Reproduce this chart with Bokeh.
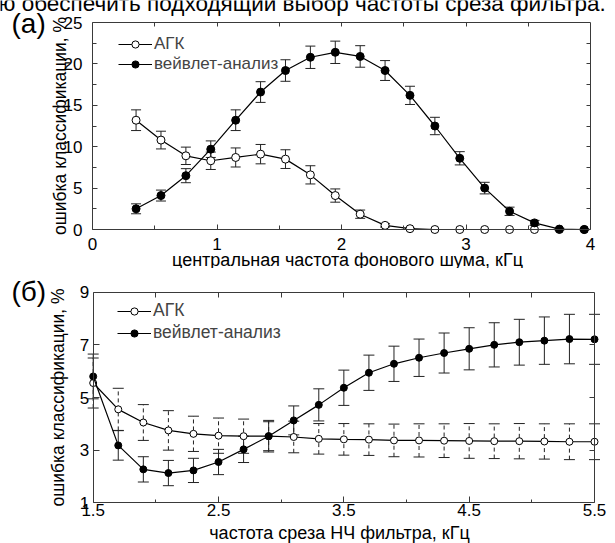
import math
from bokeh.plotting import figure
from bokeh.layouts import column
from bokeh.models import (Range1d, LinearAxis, Whisker, ColumnDataSource, Legend,
                          LegendItem, Label, TeeHead, FixedTicker)
from bokeh.embed import file_html
from bokeh.resources import INLINE

FONT = "Liberation Sans"

# ---------------- panel (а) data ----------------
x_a = [0.35, 0.55, 0.75, 0.95, 1.15, 1.35, 1.55, 1.75, 1.95, 2.15,
       2.35, 2.55, 2.75, 2.95, 3.15, 3.35, 3.55, 3.75, 3.95]
agk_a = [13.2, 10.8, 8.9, 8.3, 8.7, 9.1, 8.5, 6.6, 4.1, 1.85,
         0.5, 0.1, 0.0, 0.0, 0.0, 0.0, 0.0, 0.0, 0.0]
agk_a_err = [1.25, 1.07, 1.05, 1.05, 1.15, 1.17, 1.13, 1.1, 0.8, 0.5,
             0.2, 0.05, 0.0, 0.0, 0.0, 0.0, 0.0, 0.0, 0.0]
wav_a = [2.5, 4.1, 6.5, 9.7, 13.2, 16.6, 19.2, 20.8, 21.4, 20.9,
         19.2, 16.2, 12.5, 8.6, 5.0, 2.2, 0.8, 0.05, 0.0]
wav_a_err = [0.6, 0.66, 0.85, 1.0, 1.25, 1.25, 1.3, 1.35, 1.35, 1.3,
             1.2, 1.1, 1.05, 0.8, 0.7, 0.5, 0.3, 0.1, 0.05]
xticks_a = [0, 1, 2, 3, 4]
xminor_a = [0.5, 1.5, 2.5, 3.5]
xtop_a = [0.5, 1, 1.5, 2, 2.5, 3, 3.5]
yticks_a = [0, 5, 10, 15, 20, 25]
yminor_a = [2.5, 7.5, 12.5, 17.5, 22.5]

# ---------------- panel (б) data ----------------
x_b = [1.5, 1.7, 1.9, 2.1, 2.3, 2.5, 2.7, 2.9, 3.1, 3.3, 3.5,
       3.7, 3.9, 4.1, 4.3, 4.5, 4.7, 4.9, 5.1, 5.3, 5.5]
agk_b = [5.55, 4.55, 4.05, 3.75, 3.62, 3.55, 3.53, 3.53, 3.5, 3.43, 3.41,
         3.4, 3.37, 3.37, 3.36, 3.35, 3.34, 3.34, 3.33, 3.32, 3.32]
agk_b_err = [0.95, 0.8, 0.68, 0.75, 0.67, 0.67, 0.65, 0.6, 0.6, 0.58, 0.6,
             0.6, 0.62, 0.63, 0.64, 0.66, 0.66, 0.67, 0.67, 0.68, 0.68]
wav_b = [5.8, 3.18, 2.27, 2.13, 2.23, 2.55, 3.03, 3.53, 4.13, 4.72, 5.37,
         5.94, 6.28, 6.51, 6.69, 6.85, 7.0, 7.1, 7.16, 7.22, 7.21]
wav_b_err = [0.85, 0.56, 0.48, 0.48, 0.46, 0.48, 0.5, 0.55, 0.55, 0.61, 0.67,
             0.67, 0.67, 0.71, 0.76, 0.8, 0.84, 0.87, 0.9, 0.94, 0.95]
xticks_b = [1.5, 2.5, 3.5, 4.5, 5.5]
xminor_b = [2.0, 3.0, 4.0, 5.0]
xtop_b = [2.0, 2.5, 3.0, 3.5, 4.0, 4.5, 5.0]
yticks_b = [1, 3, 5, 7, 9]

labels = ["АГК", "вейвлет-анализ"]
y_title = "ошибка классификации, %"
x_title_a = "центральная частота фонового шума, кГц"
x_title_b = "частота среза НЧ фильтра, кГц"
top_text = "ю обеспечить подходящий выбор  частоты среза фильтра."

AX = "#3a3a3a"
EB = "#222222"
BASE_FIX = 6   # bokeh draws "alphabetic" labels lower than the given point


class Geo:
    """pixel geometry of one panel: canvas size and plot box position"""
    def __init__(self, w, h, px0, px1, x0, x1, py0, py1, y0, y1):
        self.w, self.h = w, h
        self.sx = (px1 - px0) / (x1 - x0)
        self.sy = (py0 - py1) / (y1 - y0)
        self.px0, self.x0, self.py0, self.y0 = px0, x0, py0, y0
        self.xr = Range1d(self.dx(0), self.dx(w))
        self.yr = Range1d(self.dy(h), self.dy(0))

    def dx(self, px):
        return self.x0 + (px - self.px0) / self.sx

    def dy(self, py):
        return self.y0 + (self.py0 - py) / self.sy


def style_axis(ax, tick_in, minor_in, standoff, labels_on=True):
    ax.axis_line_color = AX
    ax.axis_line_width = 1
    ax.major_tick_line_color = AX
    ax.minor_tick_line_color = AX
    ax.major_tick_out = 0
    ax.minor_tick_out = 0
    ax.major_tick_in = tick_in
    ax.minor_tick_in = minor_in
    ax.major_label_standoff = standoff
    ax.major_label_text_font = FONT
    ax.major_label_text_font_size = "17px"
    ax.major_label_text_color = "black" if labels_on else None


def make_fig(g):
    p = figure(width=g.w, height=g.h, x_range=g.xr, y_range=g.yr, title=None,
               output_backend="svg", toolbar_location=None, min_border=0)
    p.grid.visible = False
    p.outline_line_color = None
    p.background_fill_color = "white"
    p.border_fill_color = "white"
    return p


def add_axes(p, xr, yr, xt, xm, xtop, yt, ym, yright, tick_in, minor_in, xs, ys):
    bx = p.xaxis[0]
    bx.ticker = FixedTicker(ticks=xt, minor_ticks=xm)
    bx.bounds = xr
    bx.fixed_location = yr[0]
    style_axis(bx, tick_in, minor_in, xs)
    ly = p.yaxis[0]
    ly.ticker = FixedTicker(ticks=yt, minor_ticks=ym)
    ly.bounds = yr
    ly.fixed_location = xr[0]
    style_axis(ly, tick_in, minor_in, ys)
    top = LinearAxis(ticker=FixedTicker(ticks=xtop), bounds=xr, fixed_location=yr[1])
    style_axis(top, tick_in - 1, 0, 0, labels_on=False)
    p.add_layout(top, "above")
    right = LinearAxis(ticker=FixedTicker(ticks=yright), bounds=yr, fixed_location=xr[1])
    style_axis(right, tick_in - 1, 0, 0, labels_on=False)
    p.add_layout(right, "right")


def errbars(p, x, y, e, width, dash="solid"):
    src = ColumnDataSource(dict(x=x, lo=[a - b for a, b in zip(y, e)],
                                hi=[a + b for a, b in zip(y, e)]))
    w = Whisker(base="x", lower="lo", upper="hi", source=src,
                line_color=EB, line_width=1, line_dash=dash,
                upper_head=TeeHead(size=width, line_color=EB, line_width=1),
                lower_head=TeeHead(size=width, line_color=EB, line_width=1))
    p.add_layout(w)


def series(p, x, y, filled, size):
    ln = p.line(x, y, line_color="black", line_width=1.2)
    sc = p.scatter(x, y, marker="circle", size=size, line_color="black",
                   line_width=1, fill_color="black" if filled else "white")
    return [ln, sc]


def legend(p, g, r1, r2, left_px, top_px, row_gap, size):
    lg = Legend(items=[LegendItem(label=labels[0], renderers=r1),
                       LegendItem(label=labels[1], renderers=r2)],
                location=(left_px, g.h - top_px - 36 - row_gap),
                glyph_width=34, glyph_height=18, label_height=18,
                label_standoff=2, spacing=row_gap, padding=0, margin=0,
                border_line_color=None, background_fill_alpha=0,
                label_text_font=FONT, label_text_font_size=size)
    p.add_layout(lg)


def text(p, g, px, py, s, size, align="left", baseline="alphabetic", angle=0.0):
    if baseline == "alphabetic":
        py -= BASE_FIX
    p.add_layout(Label(x=g.dx(px), y=g.dy(py), text=s, text_font=FONT,
                       text_font_size=size, text_align=align,
                       text_baseline=baseline, angle=angle, text_color="black"))


# ---------- figure (а) ----------
g1 = Geo(607, 268, 92, 590, 0, 4, 229, 22, 0, 25)
p1 = make_fig(g1)
add_axes(p1, (0, 4), (0, 25), xticks_a, xminor_a, xtop_a, yticks_a, yminor_a,
         yminor_a + yticks_a[1:-1], 5, 4, 8, 10)
errbars(p1, x_a, agk_a, agk_a_err, 10)
errbars(p1, x_a, wav_a, wav_a_err, 10)
r_agk1 = series(p1, x_a, agk_a, False, 8)
r_wav1 = series(p1, x_a, wav_a, True, 8)
legend(p1, g1, r_agk1, r_wav1, 118, 37.7, 0, "17px")
text(p1, g1, -2, 9, top_text, "22.5px")
text(p1, g1, 11, 29, "(а)", "28px")
text(p1, g1, 347, 265, x_title_a, "18px", align="center")
text(p1, g1, 59, 125.5, y_title, "17.5px", align="center", baseline="middle",
     angle=math.pi / 2)

# ---------- figure (б) ----------
g2 = Geo(607, 275, 92.7, 594, 1.5, 5.5, 234.3, 23.7, 1, 9)
p2 = make_fig(g2)
add_axes(p2, (1.5, 5.5), (1, 9), xticks_b, xminor_b, xtop_b, yticks_b, [],
         yticks_b[1:-1], 6, 3, 1, 4)
errbars(p2, x_b, agk_b, agk_b_err, 11, dash="4 3")
errbars(p2, x_b, wav_b, wav_b_err, 11)
r_agk2 = series(p2, x_b, agk_b, False, 7)
r_wav2 = series(p2, x_b, wav_b, True, 7)
legend(p2, g2, r_agk2, r_wav2, 117, 38.3, 1, "17.5px")
text(p2, g2, 11, 29, "(б)", "28px")
text(p2, g2, 339, 270, x_title_b, "18px", align="center")
text(p2, g2, 57.5, 129, y_title, "17.5px", align="center", baseline="middle",
     angle=math.pi / 2)

layout = column(p1, p2, spacing=0,
                styles={"position": "absolute", "top": "0px", "left": "0px"})

open("out.html", "w").write(file_html(layout, INLINE))
